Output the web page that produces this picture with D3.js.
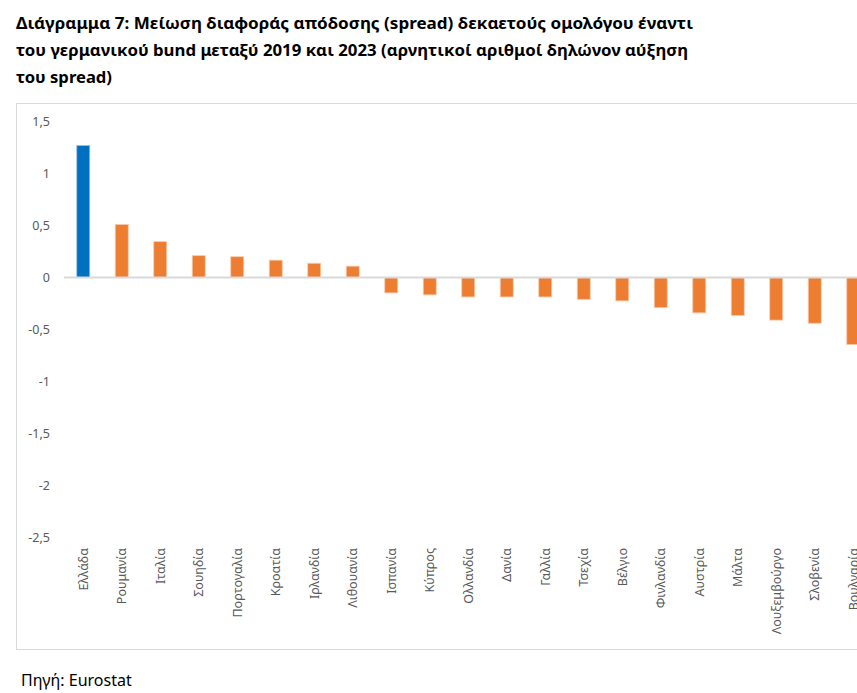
<!DOCTYPE html>
<html>
<head>
<meta charset="utf-8">
<script src="https://cdn.jsdelivr.net/npm/d3@7"></script>
<style>
  html, body { margin: 0; padding: 0; background: #fff; }
  svg { display: block; }
</style>
</head>
<body>
<svg id="chart" width="857" height="693"></svg>
<script>
const titleLines = [
  'Διάγραμμα 7: Μείωση διαφοράς απόδοσης (spread) δεκαετούς ομολόγου έναντι',
  'του γερμανικού bund μεταξύ 2019 και 2023 (αρνητικοί αριθμοί δηλώνον αύξηση',
  'του spread)'
]
const titleWidths = [677, 672, 96]

const countries = [
  'Ελλάδα', 'Ρουμανία', 'Ιταλία', 'Σουηδία', 'Πορτογαλία', 'Κροατία',
  'Ιρλανδία', 'Λιθουανία', 'Ισπανία', 'Κύπρος', 'Ολλανδία', 'Δανία',
  'Γαλλία', 'Τσεχία', 'Βέλγιο', 'Φινλανδία', 'Αυστρία', 'Μάλτα',
  'Λουξεμβούργο', 'Σλοβενία', 'Βουλγαρία'
]
const spreadChange = [
  1.27, 0.51, 0.345, 0.21, 0.20, 0.167,
  0.137, 0.109, -0.148, -0.167, -0.187, -0.187,
  -0.187, -0.21, -0.225, -0.29, -0.34, -0.365,
  -0.41, -0.44, -0.645
]
const highlight = 'Ελλάδα'
const yTicks = [1.5, 1, 0.5, 0, -0.5, -1, -1.5, -2, -2.5]
const source = 'Πηγή: Eurostat'

const svg = d3.select('#chart')
const font = '"Noto Sans", "Open Sans", sans-serif'

// title
svg.append('g')
  .attr('font-family', font)
  .attr('font-weight', 'bold')
  .attr('font-size', 16)
  .attr('fill', '#000')
  .selectAll('text')
  .data(titleLines)
  .join('text')
  .attr('x', 16)
  .attr('y', (d, i) => 29 + i * 27)
  .attr('textLength', (d, i) => titleWidths[i])
  .attr('lengthAdjust', 'spacingAndGlyphs')
  .text(d => d)

// chart frame (runs off the right edge, as in the source)
svg.append('rect')
  .attr('x', 16.5)
  .attr('y', 103.5)
  .attr('width', 900)
  .attr('height', 546)
  .attr('fill', 'none')
  .attr('stroke', '#d9d9d9')
  .attr('stroke-width', 1)

const x = d3.scaleBand()
  .domain(countries)
  .range([64, 64 + countries.length * 38.5])
  .paddingInner(0.662)
  .paddingOuter(0.331)

const y = d3.scaleLinear()
  .domain([-2.5, 1.5])
  .range([537.5, 121.5])

// excel style: comma decimals, plain hyphen for minus
const fmt = v => String(v).replace('.', ',')

// y tick labels, no axis line
const yAxis = svg.append('g')
  .attr('transform', 'translate(50,0)')
  .call(d3.axisLeft(y).tickValues(yTicks).tickFormat(fmt).tickSize(0).tickPadding(0))
yAxis.select('.domain').remove()
yAxis.selectAll('text')
  .attr('font-family', font)
  .attr('font-size', 12.5)
  .attr('fill', '#595959')

// bars
svg.append('g')
  .selectAll('rect')
  .data(countries)
  .join('rect')
  .attr('x', d => x(d))
  .attr('width', x.bandwidth())
  .attr('y', (d, i) => y(Math.max(0, spreadChange[i])))
  .attr('height', (d, i) => Math.abs(y(spreadChange[i]) - y(0)))
  .attr('fill', d => d === highlight ? '#0070c0' : '#ed7d31')
  .attr('stroke', d => d === highlight ? '#9dc3e6' : '#f8cbad')
  .attr('stroke-width', 0.8)

// zero line
svg.append('line')
  .attr('x1', 64)
  .attr('x2', 870)
  .attr('y1', y(0))
  .attr('y2', y(0))
  .attr('stroke', '#d9d9d9')
  .attr('stroke-width', 2)

// category labels, rotated
svg.append('g')
  .attr('font-family', font)
  .attr('font-size', 12.5)
  .attr('fill', '#595959')
  .selectAll('text')
  .data(countries)
  .join('text')
  .attr('text-anchor', 'end')
  .attr('dy', '0.35em')
  .attr('transform', d => `translate(${x(d) + x.bandwidth() / 2},548) rotate(-90)`)
  .text(d => d)

// source note
svg.append('text')
  .attr('x', 21)
  .attr('y', 686)
  .attr('font-family', font)
  .attr('font-size', 16)
  .attr('fill', '#000')
  .text(source)
</script>
</body>
</html>
